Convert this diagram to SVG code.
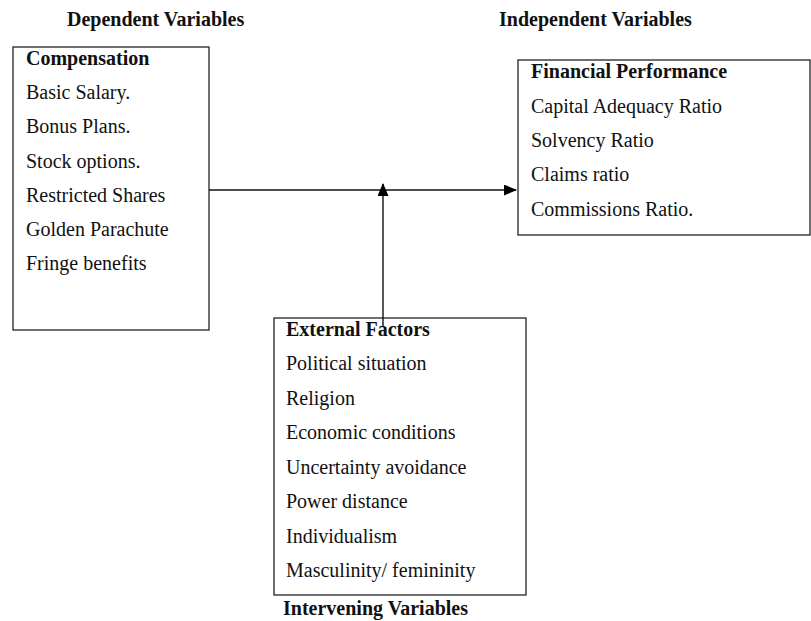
<svg xmlns="http://www.w3.org/2000/svg" width="811" height="621" viewBox="0 0 811 621">
<style>
.box{fill:#fff;stroke:#222;stroke-width:1.3}
text{font-family:"Liberation Serif","Times New Roman",serif;font-size:20px;fill:#111}
.b{font-weight:bold}
.con{stroke:#111;stroke-width:1.4;fill:none}
</style>
<defs>
<marker id="ah" markerWidth="13" markerHeight="11" refX="12" refY="5.5" orient="auto" markerUnits="userSpaceOnUse">
<path d="M0,0 L13,5.5 L0,11 Z" fill="#000"/>
</marker>
</defs>
<rect width="811" height="621" fill="#fff"/>
<text class="b" x="67" y="26">Dependent Variables</text>
<text class="b" x="499" y="26">Independent Variables</text>
<text class="b" x="283" y="615">Intervening Variables</text>
<g id="compensation">
<rect class="box" x="13" y="47" width="196" height="283"/>
<text class="b" x="26" y="65">Compensation</text>
<text x="26" y="99">Basic Salary.</text>
<text x="26" y="133">Bonus Plans.</text>
<text x="26" y="168">Stock options.</text>
<text x="26" y="202">Restricted Shares</text>
<text x="26" y="236">Golden Parachute</text>
<text x="26" y="270">Fringe benefits</text>
</g>
<g id="financial">
<rect class="box" x="518" y="60" width="292" height="175"/>
<text class="b" x="531" y="78">Financial Performance</text>
<text x="531" y="113">Capital Adequacy Ratio</text>
<text x="531" y="147">Solvency Ratio</text>
<text x="531" y="181">Claims ratio</text>
<text x="531" y="216">Commissions Ratio.</text>
</g>
<g id="external">
<rect class="box" x="274" y="318" width="252" height="277"/>
<text class="b" x="286" y="336">External Factors</text>
<text x="286" y="370">Political situation</text>
<text x="286" y="405">Religion</text>
<text x="286" y="439">Economic conditions</text>
<text x="286" y="474">Uncertainty avoidance</text>
<text x="286" y="508">Power distance</text>
<text x="286" y="543">Individualism</text>
<text x="286" y="577">Masculinity/ femininity</text>
</g>
<g id="connectors">
<line class="con" x1="209" y1="190" x2="516" y2="190" marker-end="url(#ah)"/>
<line class="con" x1="383" y1="327" x2="383" y2="184" marker-end="url(#ah)"/>
</g>
</svg>
